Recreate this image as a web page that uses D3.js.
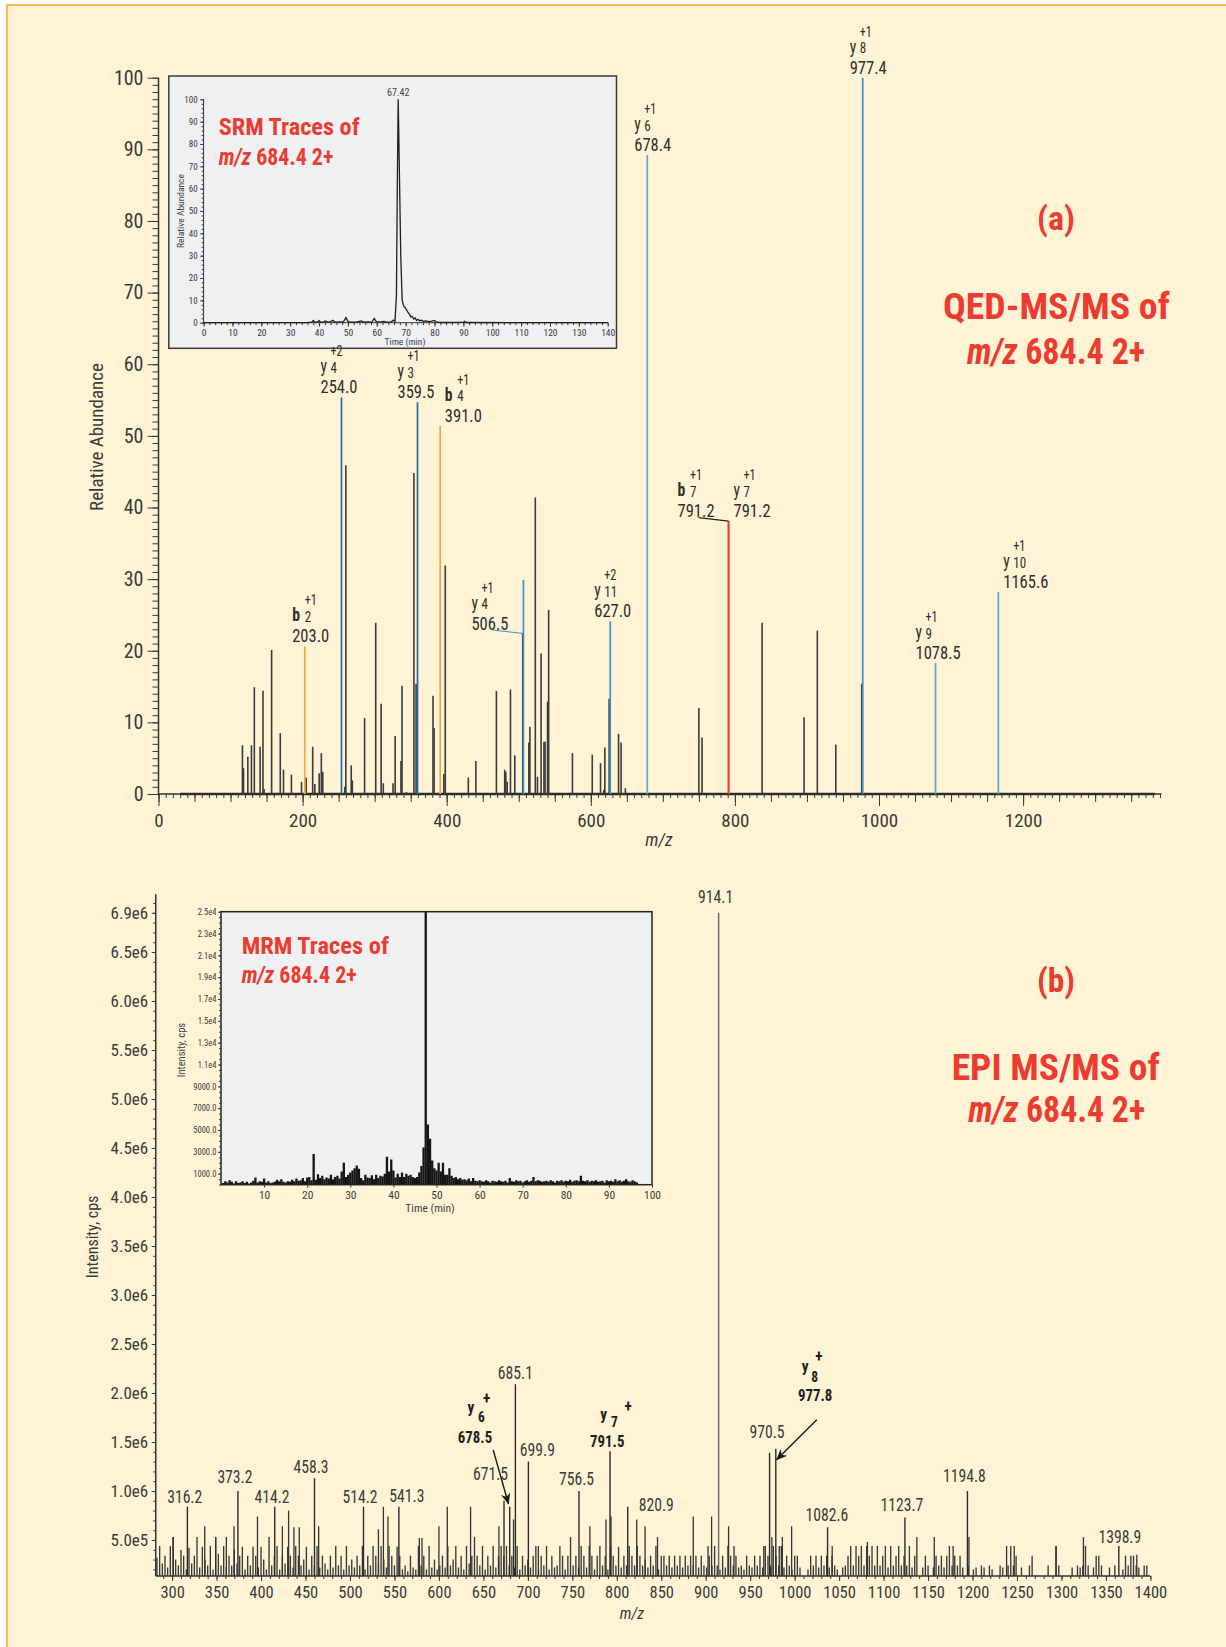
<!DOCTYPE html>
<html>
<head>
<meta charset="utf-8">
<script src="https://cdn.jsdelivr.net/npm/d3@7"></script>
<style>
  html, body { margin: 0; padding: 0; background: #fff; }
  svg { display: block; }
</style>
</head>
<body>
<div id="chart"></div>
<script>
/////////////////////////////////////////////////////////////
//////////////////////////// Data ///////////////////////////
/////////////////////////////////////////////////////////////

// (a) QED-MS/MS, unlabeled peaks: [m/z, relative abundance]
var qedPeaks = [
  [116.5,6.8],[118,3.6],[124,5.2],[129,6.8],[133,14.9],[141,6.6],[145,14.4],[146.5,0.7],
  [157,20.1],[169,8.5],[173.5,3.4],[184.5,2.7],[198.5,1.7],[205,2.3],[214,6.6],[217,1.4],
  [223,2.9],[226,5.7],[228,3.1],[258.5,1.0],[260,45.9],[267.5,4.0],[269,1.9],[286,10.6],
  [301.5,23.9],[309,12.6],[312,1.5],[325.5,1.5],[328.5,8.1],[336.5,4.6],[338,15.1],[344,0.3],
  [354.5,44.8],[357.5,15.4],[381,13.7],[382.5,9.2],[396,2.8],[398,31.9],[430,2.3],[440.5,4.6],
  [469,14.4],[480.5,3.4],[482,3.1],[484,1.7],[488.5,14.6],[494.5,5.4],[505.5,22.4],[514,7.2],
  [515.5,9.4],[523,41.4],[526,2.4],[531,19.6],[535,7.3],[536.5,7.3],[540,12.9],[541.5,25.7],
  [574.5,5.7],[602,5.5],[613.5,4.3],[618,0.6],[619.5,6.5],[625.5,13.3],[638.5,8.4],[642,7.2],
  [648,0.8],[750,12.0],[754.4,7.9],[837.8,23.9],[896,10.7],[914.4,22.8],[940,6.9],[976,15.4]
];

// (a) assigned fragment ions
var qedIons = [
  { name: "b2",   ion: "b", idx: "2",  z: "+1", mz: 203.0,  ab: 20.6 },
  { name: "y4z2", ion: "y", idx: "4",  z: "+2", mz: 254.0,  ab: 55.4 },
  { name: "y3",   ion: "y", idx: "3",  z: "+1", mz: 359.5,  ab: 54.7 },
  { name: "b4",   ion: "b", idx: "4",  z: "+1", mz: 391.0,  ab: 51.4 },
  { name: "y4",   ion: "y", idx: "4",  z: "+1", mz: 506.5,  ab: 29.9 },
  { name: "y11",  ion: "y", idx: "11", z: "+2", mz: 627.0,  ab: 24.1 },
  { name: "y6",   ion: "y", idx: "6",  z: "+1", mz: 678.4,  ab: 89.2 },
  { name: "b7",   ion: "b", idx: "7",  z: "+1", mz: 791.2,  ab: 38.1 },
  { name: "y7",   ion: "y", idx: "7",  z: "+1", mz: 791.2,  ab: 38.1 },
  { name: "y8",   ion: "y", idx: "8",  z: "+1", mz: 977.4,  ab: 100 },
  { name: "y9",   ion: "y", idx: "9",  z: "+1", mz: 1078.5, ab: 18.3 },
  { name: "y10",  ion: "y", idx: "10", z: "+1", mz: 1165.6, ab: 28.2 }
];

// (a) inset: SRM trace [time (min), relative abundance]
var srmTrace = [
  [0,0],[36,0],[37.5,0.3],[38,1.0],[38.5,0.2],[39.5,0.3],[40,0.9],[40.6,0.2],[41.5,0.4],
  [42.2,0.8],[43,0.3],[44,0.5],[44.8,1.1],[45.5,0.3],[47,0.4],[48.5,0.5],[49.3,2.3],[50,0.6],
  [51,0.2],[53,0.3],[54.6,0.8],[55.5,0.3],[57,0.4],[58.3,0.3],[59.1,1.9],[59.8,0.5],[61,0.3],
  [62.5,0.6],[63.5,0.2],[65,0.4],[65.8,1.2],[66.3,0.5],[66.8,12],[67.1,60],[67.42,100],
  [67.8,70],[68.3,30],[68.8,10],[69.3,7.5],[69.8,6.8],[70.3,5.8],[70.8,4.6],[71.3,3.8],
  [71.8,2.6],[72.3,2.8],[72.8,1.6],[73.3,2.1],[73.8,1.0],[74.3,1.5],[74.8,0.9],[75.5,1.1],
  [76.2,0.6],[77,0.8],[78,0.5],[79,0.7],[80,1.0],[80.5,0.4],[81.5,0.2],[83,0.1],[90,0.2],
  [90.4,0.6],[91,0.1],[140,0]
];
var srmApex = 67.42;

// (b) EPI MS/MS: dense low-level ion forest, intensity in 1e5 cps, one value every 3 m/z from 283
var epiNoiseStart = 283, epiNoiseStep = 3;
var epiNoise = [
  3.2,4.4,2.6,3.4,2.2,4.4,5.3,3.0,2.4,4.0,  3.4,2.0,4.2,2.6,3.4,5.3,2.2,4.3,3.0,2.4,
  4.4,2.0,5.3,3.6,2.4,4.4,2.2,3.4,2.4,4.0,  2.6,3.4,4.3,2.0,3.4,2.4,4.3,3.4,2.2,4.3,
  3.0,2.0,5.3,2.4,3.4,4.4,2.0,3.4,2.6,4.3,  3.4,2.2,4.4,3.4,2.4,3.0,4.3,2.0,3.4,2.4,
  4.4,2.2,3.4,2.6,2.0,3.4,2.2,4.4,2.4,3.4,  2.0,4.4,2.4,3.0,2.2,3.4,2.4,4.4,2.0,3.4,
  2.4,4.4,3.4,2.6,4.4,3.0,2.2,4.4,3.4,2.4,  4.3,3.4,2.0,2.4,1.8,3.4,2.2,2.0,4.4,2.4,
  3.4,2.0,4.4,2.2,3.0,2.0,2.4,3.4,2.2,4.4,  2.4,3.0,4.4,2.2,3.4,2.0,4.4,2.6,3.4,5.3,
  3.4,2.4,4.4,2.0,3.4,2.4,4.4,2.2,3.4,4.4,  3.4,4.4,2.4,3.4,2.2,4.4,2.0,3.4,2.4,3.0,
  2.2,3.4,4.4,2.0,3.4,2.4,4.4,2.0,3.4,2.2,  2.4,4.4,3.4,2.0,3.4,5.3,2.4,3.4,2.2,4.4,
  3.4,2.2,4.4,3.4,2.0,3.4,4.4,2.4,3.4,2.0,  4.4,3.4,2.4,4.3,2.2,3.4,2.4,4.4,3.4,2.4,
  4.4,3.4,2.4,3.0,2.2,3.4,2.4,4.4,2.0,3.4,  3.4,2.4,3.4,2.2,3.4,2.4,3.4,2.2,3.4,2.4,
  3.4,2.4,3.4,2.2,3.4,2.4,2.2,3.4,2.4,4.4,  2.4,2.0,3.4,2.2,4.4,3.4,2.4,3.4,2.2,2.4,
  2.0,3.4,2.4,2.2,3.4,2.4,3.4,2.2,4.4,3.4,  2.4,4.4,3.4,2.4,4.4,2.2,3.4,2.4,2.0,3.4,
  3.4,2.2,0,0,2.0,3.4,2.4,3.4,2.2,3.4,      2.4,3.4,2.2,3.4,2.4,2.0,0,2.2,2.4,3.4,
  4.4,2.4,4.4,3.4,4.4,2.4,4.4,3.4,4.4,2.4,  4.4,2.4,3.4,4.4,2.2,4.4,2.4,3.4,4.4,2.4,
  3.4,2.4,4.4,2.2,3.4,0,0,2.2,3.4,2.4,      0,2.2,3.4,2.4,3.4,2.2,3.4,4.4,2.4,3.4,
  2.4,3.4,2.2,0,2.4,0,2.0,2.2,0,2.4,        2.2,0,2.4,2.0,0,0,2.4,2.2,0,2.4,
  4.4,2.4,3.4,0,2.2,0,0,2.4,3.4,0,          0,0,0,0,2.4,0,0,4.4,2.4,0,
  0,0,0,2.2,0,2.4,2.2,2.4,4.4,2.4,          0,2.2,3.4,3.4,2.4,0,0,2.2,0,2.4,
  0,0,2.0,3.4,2.4,3.4,3.4,2.4,2.2,0,        2.4,2.4,0
];

// (b) stronger unlabeled peaks: [m/z, intensity 1e5 cps]
var epiPeaks = [
  [301.4,5.3],[336.7,6.4],[349,5.3],[361,5.3],[369.6,6.4],[396,7.4],[424,6.4],[431,8.0],
  [437,6.3],[443,6.3],[464.8,6.4],[532,6.1],[537.6,8.4],[542.7,7.4],[578,5.2],[581,5.2],
  [600,6.4],[609.4,8.4],[635.6,8.4],[667.5,6.4],[683.9,7.1],[711.8,4.4],[769.8,6.4],
  [787.9,7.1],[793.5,7.4],[822.4,7.1],[831.8,6.4],[845.8,5.3],[886,7.4],[902.6,4.4],
  [906.6,7.4],[925.7,6.4],[931.8,4.4],[965.3,4.4],[974.4,5.3],[982.7,4.4],[986.2,5.3],
  [996.6,6.4],[1042.2,4.4],[1081.8,4.8],[1137.4,5.3],[1157,5.3],[1178.2,4.4],[1196,5.3],
  [1238.3,4.4],[1246.9,4.4],[1293.8,4.4],[1324.7,5.3],[1384.7,3.5]
];

// (b) labeled peaks (label text as printed, peak drawn where it sits on the axis)
var epiLabeled = [
  { text: "316.2",  mz: 317.2,  inten: 8.4 },
  { text: "373.2",  mz: 374.0,  inten: 10.0 },
  { text: "414.2",  mz: 415.4,  inten: 8.4 },
  { text: "458.3",  mz: 460.1,  inten: 11.3 },
  { text: "514.2",  mz: 515.2,  inten: 8.4 },
  { text: "541.3",  mz: 555.0,  inten: 8.4 },
  { text: "671.5",  mz: 673.2,  inten: 9.0 },
  { text: "685.1",  mz: 686.0,  inten: 20.9 },
  { text: "699.9",  mz: 700.6,  inten: 13.0 },
  { text: "756.5",  mz: 757.5,  inten: 10.0 },
  { text: "820.9",  mz: 812.3,  inten: 8.4 },
  { text: "914.1",  mz: 914.5,  inten: 69.0 },
  { text: "970.5",  mz: 971.8,  inten: 13.9 },
  { text: "1082.6", mz: 1037.0, inten: 6.3 },
  { text: "1123.7", mz: 1124.0, inten: 7.3 },
  { text: "1194.8", mz: 1194.3, inten: 10.0 },
  { text: "1398.9", mz: 1364.5, inten: 4.4 }
];

// (b) assigned y ions
var epiIons = [
  { ion: "y", idx: "6", z: "+", text: "678.5", mz: 679.6, inten: 8.4 },
  { ion: "y", idx: "7", z: "+", text: "791.5", mz: 792.4, inten: 14.05 },
  { ion: "y", idx: "8", z: "+", text: "977.8", mz: 978.8, inten: 14.3 }
];

// (b) inset: MRM trace, cps, one reading every 0.5 min from 0.5 min
var mrmStart = 0.5, mrmStep = 0.5;
var mrmValues = [
  150,300,200,400,250,100,300,150,200,300,
  150,250,100,200,350,650,200,300,250,550,
  200,300,150,200,250,450,300,500,250,200,
  300,250,450,300,550,350,400,600,300,650,
  700,400,2800,450,950,600,800,500,650,550,
  900,500,700,800,550,1200,2000,700,900,1100,
  1300,1500,1750,1450,600,400,900,650,600,850,
  500,900,600,800,750,1000,2550,1200,2300,1300,
  650,1000,700,1100,700,1000,800,900,700,600,
  700,1100,1700,3400,26000,5500,4200,2200,1500,1300,
  2000,1200,2000,900,900,1500,800,600,700,500,
  600,450,500,400,550,300,600,350,300,400,
  300,250,400,300,200,350,300,250,400,300,
  250,350,200,600,300,250,400,300,350,200,
  300,400,250,350,700,300,400,350,250,300,
  350,250,400,300,200,350,300,400,250,350,
  300,450,250,350,400,300,800,350,300,400,
  250,350,300,400,250,300,350,200,400,300,
  350,250,500,300,400,250,350,500,300,250,
  400,300,200
];

// tick labels
var epiYTicks  = [5e5,1e6,1.5e6,2e6,2.5e6,3e6,3.5e6,4e6,4.5e6,5e6,5.5e6,6e6,6.5e6,6.9e6];
var epiYLabels = ["5.0e5","1.0e6","1.5e6","2.0e6","2.5e6","3.0e6","3.5e6","4.0e6","4.5e6","5.0e6","5.5e6","6.0e6","6.5e6","6.9e6"];
var mrmYTicks  = [1000,3000,5000,7000,9000,11000,13000,15000,17000,19000,21000,23000,25000];
var mrmYLabels = ["1000.0","3000.0","5000.0","7000.0","9000.0","1.1e4","1.3e4","1.5e4","1.7e4","1.9e4","2.1e4","2.3e4","2.5e4"];

/////////////////////////////////////////////////////////////
/////////////////////////// Layout //////////////////////////
/////////////////////////////////////////////////////////////

var W = 1226, H = 1647;
var FONT = '"Liberation Sans Narrow","Arial Narrow","Roboto Condensed","DejaVu Sans Condensed",sans-serif';
var RED = "#EC3C32", BLUE = "#3b93c9", DARKBLUE = "#1f6dab", ORANGE = "#F5A540";
var SQ_A = 0.87, SQ_B = 0.87, SQ_BOLD = 0.9;   // horizontal squeeze of annotation text

// label placement for the (a) ions: text offset from the peak, optional leader
var ionLayout = {
  b2:   { dx: -12.6, color: ORANGE },
  y4z2: { dx: -21,   color: DARKBLUE },
  y3:   { dx: -20,   color: DARKBLUE },
  b4:   { dx: 4.6,   color: ORANGE },
  y4:   { dx: -52,   color: BLUE, at: 22.4, leader: true },
  y11:  { dx: -16,   color: BLUE },
  y6:   { dx: -13,   color: "#5aaad6" },
  b7:   { dx: -51,   color: RED, leader: true },
  y7:   { dx: 5,     color: RED },
  y8:   { dx: -13,   color: BLUE },
  y9:   { dx: -20,   color: "#55a8d6" },
  y10:  { dx: 5,     color: "#55a8d6" }
};
// rows of an ion label, relative to the value baseline
var ROW = { value: 0, letter: -21, index: -20.4, charge: -37 };

// label placement for (b) labeled peaks: centre offset and gap above peak top
var epiLabelLayout = {
  "316.2": { dx: -2.7, gap: 4 },   "373.2": { dx: -3, gap: 8 },    "414.2": { dx: -2.7, gap: 4 },
  "458.3": { dx: -3.5, gap: 5.5 }, "514.2": { dx: -3.5, gap: 4 },  "541.3": { dx: 8, gap: 5 },
  "671.5": { dx: -13.5, gap: 21 }, "685.1": { dx: 0, gap: 5.5 },   "699.9": { dx: 9, gap: 5.5 },
  "756.5": { dx: -2.4, gap: 6 },   "820.9": { dx: 11, gap: -4.3, start: true },
  "914.1": { dx: -3, gap: 9.6 },   "970.5": { dx: -2.6, gap: 15 }, "1082.6": { dx: -0.6, gap: 6.3 },
  "1123.7": { dx: -3, gap: 6.5 },  "1194.8": { dx: -3, gap: 9 },   "1398.9": { dx: 1, gap: 2.6 }
};

// bold ion annotations in (b): offsets from peak top (value, letter, index, charge, arrow)
var epiIonLayout = {
  "678.5": { vx: -34.7, vb: -63.4, lx: -42.1, lb: -93.7, ix: -31.7, ib: -85,   zx: -26.7, zb: -103, arrow: [-16.5, -56.7, -1.2, -2.7] },
  "791.5": { vx: -2.8,  vb: -4.6,  lx: -9.7,  lb: -31,   ix: 1,     ib: -24.6, zx: 14.4,  zb: -39 },
  "977.8": { vx: 39.4,  vb: -48.2, lx: 25.9,  lb: -77,   ix: 35.5,  ib: -67.2, zx: 39.4,  zb: -87.2, arrow: [41, -29, 0.7, 11] }
};

var svg = d3.select("#chart").append("svg")
  .attr("width", W).attr("height", H)
  .attr("font-family", FONT);

svg.append("rect").attr("width", W).attr("height", H).attr("fill", "#fff");
svg.append("rect")
  .attr("x", 7).attr("y", 5).attr("width", W + 20).attr("height", H + 20)
  .attr("fill", "#FEF4D5").attr("stroke", "#F7BC58").attr("stroke-width", 2);

var defs = svg.append("defs");
defs.append("marker").attr("id", "arrowHead")
  .attr("viewBox", "0 0 10 10").attr("refX", 9.5).attr("refY", 5)
  .attr("markerWidth", 8).attr("markerHeight", 8).attr("orient", "auto")
  .append("path").attr("d", "M0,0.8 L10,5 L0,9.2 L3,5 Z").attr("fill", "#1a1a1a");

// axis helper: ticks only, domain line drawn separately
function tickLayer(parent, tx, ty, axisFn, scale, values, size, fmt, pad, fontSize) {
  var g = parent.append("g").attr("transform", "translate(" + tx + "," + ty + ")");
  g.call(axisFn(scale).tickValues(values).tickSize(size).tickSizeOuter(0)
    .tickPadding(pad || 3).tickFormat(fmt || ""));
  g.select(".domain").remove();
  g.attr("font-family", FONT).attr("font-size", fontSize || 10).attr("color", "#3a3a3a");
  g.selectAll("line").attr("stroke-width", 1);
  return g;
}

// red bold panel titles
function titleText(x, y, size, len, parts) {
  var t = svg.append("text").attr("x", x).attr("y", y).attr("font-size", size)
    .attr("font-weight", "bold").attr("fill", RED)
    .attr("textLength", len).attr("lengthAdjust", "spacingAndGlyphs");
  parts.forEach(function (p) {
    t.append("tspan").attr("font-style", p[1] ? "italic" : "normal").text(p[0]);
  });
}

/////////////////////////////////////////////////////////////
/////////////////////// Panel (a) ///////////////////////////
/////////////////////////////////////////////////////////////

var xA = d3.scaleLinear().domain([0, 1200]).range([158.5, 1023.1]);
var yA = d3.scaleLinear().domain([0, 100]).range([794, 77.7]);
var gA = svg.append("g");

// y axis
tickLayer(gA, xA(0), 0, d3.axisLeft, yA, d3.range(0, 101, 1), 6);
tickLayer(gA, xA(0), 0, d3.axisLeft, yA, d3.range(0, 101, 10), 11, d3.format("d"), 4, 20);
gA.append("line").attr("x1", xA(0)).attr("x2", xA(0)).attr("y1", yA(0)).attr("y2", yA(100))
  .attr("stroke", "#333").attr("stroke-width", 1.5);

// x axis
tickLayer(gA, 0, yA(0), d3.axisBottom, xA, d3.range(0, 1391, 10), 4);
tickLayer(gA, 0, yA(0), d3.axisBottom, xA, d3.range(0, 1391, 50), 8);
tickLayer(gA, 0, yA(0), d3.axisBottom, xA, d3.range(0, 1201, 200), 12, d3.format("d"), 8, 19);
gA.append("line").attr("x1", xA(0)).attr("x2", xA(1392)).attr("y1", yA(0)).attr("y2", yA(0))
  .attr("stroke", "#333").attr("stroke-width", 1.5);

gA.append("text").attr("transform", "translate(103," + 437 + ") rotate(-90)")
  .attr("text-anchor", "middle").attr("font-size", 19).attr("fill", "#3a3a3a")
  .text("Relative Abundance");
gA.append("text").attr("x", 659).attr("y", 846).attr("text-anchor", "middle")
  .attr("font-size", 18).attr("font-style", "italic").attr("fill", "#3a3a3a").text("m/z");

// baseline of the spectrum
gA.append("line").attr("x1", xA(30)).attr("x2", xA(1383)).attr("y1", yA(0)).attr("y2", yA(0))
  .attr("stroke", "#2d2d2d").attr("stroke-width", 2.6);

// unlabeled peaks
gA.selectAll("line.qpk").data(qedPeaks).join("line").attr("class", "qpk")
  .attr("x1", d => xA(d[0])).attr("x2", d => xA(d[0]))
  .attr("y1", yA(0)).attr("y2", d => yA(d[1]))
  .attr("stroke", "#3a3a3a").attr("stroke-width", 1.6);

// ion peaks
gA.selectAll("line.ion").data(qedIons).join("line").attr("class", "ion")
  .attr("x1", d => xA(d.mz)).attr("x2", d => xA(d.mz))
  .attr("y1", yA(0)).attr("y2", d => yA(d.ab))
  .attr("stroke", d => ionLayout[d.name].color).attr("stroke-width", 1.7);

titleText(1037, 230, 34, 38, [["(a)", false]]);
titleText(943, 319, 37, 227, [["QED-MS/MS of", false]]);
titleText(967, 364, 37, 178, [["m/z", true], [" 684.4 2+", false]]);

// inset: SRM trace
var gS = svg.append("g");
gS.append("rect").attr("x", 168.8).attr("y", 76).attr("width", 447.7).attr("height", 272.3)
  .attr("fill", "#EFF0F2").attr("stroke", "#3a3a3a").attr("stroke-width", 1.5);
var xS = d3.scaleLinear().domain([0, 140]).range([203.6, 607.7]);
var yS = d3.scaleLinear().domain([0, 100]).range([322.7, 99.3]);
tickLayer(gS, xS(0), 0, d3.axisLeft, yS, d3.range(0, 101, 2), 2);
tickLayer(gS, xS(0), 0, d3.axisLeft, yS, d3.range(0, 101, 10), 3.5, d3.format("d"), 2.5, 9);
tickLayer(gS, 0, yS(0), d3.axisBottom, xS, d3.range(0, 141, 2), 2.5);
tickLayer(gS, 0, yS(0), d3.axisBottom, xS, d3.range(0, 141, 10), 4, d3.format("d"), 3, 9.5);
gS.append("line").attr("x1", xS(0)).attr("x2", xS(0)).attr("y1", yS(0)).attr("y2", yS(100))
  .attr("stroke", "#333").attr("stroke-width", 1);
gS.append("line").attr("x1", xS(0)).attr("x2", xS(140)).attr("y1", yS(0)).attr("y2", yS(0))
  .attr("stroke", "#333").attr("stroke-width", 1);
gS.append("text").attr("transform", "translate(183.5,211) rotate(-90)")
  .attr("text-anchor", "middle").attr("font-size", 9.5).attr("fill", "#444").text("Relative Abundance");
gS.append("text").attr("x", 405).attr("y", 345).attr("text-anchor", "middle")
  .attr("font-size", 9.5).attr("fill", "#444").text("Time (min)");
gS.append("path").datum(srmTrace)
  .attr("d", d3.line().x(d => xS(d[0])).y(d => yS(d[1])))
  .attr("fill", "none").attr("stroke", "#1e1e1e").attr("stroke-width", 1.3);
gS.append("text").attr("x", xS(srmApex)).attr("y", 96).attr("text-anchor", "middle")
  .attr("font-size", 10).attr("fill", "#444").text(srmApex.toFixed(2));
titleText(218.7, 135, 24, 141, [["SRM Traces of", false]]);
titleText(218.7, 165, 24, 114.6, [["m/z", true], [" 684.4 2+", false]]);

// ion labels (drawn above the inset): one text per label, rows placed with tspans
var gLab = svg.append("g");
qedIons.forEach(function (d) {
  var lay = ionLayout[d.name];
  var px = xA(d.mz), top = yA(lay.at !== undefined ? lay.at : d.ab);
  var x0 = px + lay.dx, vb = top - 4;
  var gap = (d.ion === "b" ? 12.5 : 10) / SQ_A;
  var t = gLab.append("text").attr("fill", "#2e2e2e")
    .attr("transform", "translate(" + x0 + "," + vb + ") scale(" + SQ_A + ",1)");
  t.append("tspan").attr("x", gap).attr("y", ROW.charge).attr("font-size", 14).text(d.z);
  t.append("tspan").attr("x", 0).attr("y", ROW.letter).attr("font-size", 18)
    .attr("font-weight", d.ion === "b" ? "bold" : "normal").text(d.ion);
  t.append("tspan").attr("x", gap).attr("y", ROW.index).attr("font-size", 15).text(d.idx);
  t.append("tspan").attr("x", 0).attr("y", ROW.value).attr("font-size", 19).text(d.mz.toFixed(1));
  if (lay.leader) {
    gLab.append("line").attr("x1", x0 + 21).attr("y1", vb + 0.5).attr("x2", px).attr("y2", top)
      .attr("stroke", lay.color === RED ? "#222" : lay.color).attr("stroke-width", 1.1);
  }
});

/////////////////////////////////////////////////////////////
/////////////////////// Panel (b) ///////////////////////////
/////////////////////////////////////////////////////////////

var xB = d3.scaleLinear().domain([300, 1400]).range([172.1, 1150.4]);
var yB = d3.scaleLinear().domain([5e5, 6.5e6]).range([1540, 952]);
var floorB = yB.invert(1576);
var gB = svg.append("g");

// y axis
tickLayer(gB, xB(281.6), 0, d3.axisLeft, yB, d3.range(2e5, 7.01e6, 1e5), 2.5);
tickLayer(gB, xB(281.6), 0, d3.axisLeft, yB, epiYTicks, 4, function (d, i) { return epiYLabels[i]; }, 3.5, 17);
gB.append("line").attr("x1", xB(281.6)).attr("x2", xB(281.6)).attr("y1", yB(floorB)).attr("y2", yB(7.09e6))
  .attr("stroke", "#333").attr("stroke-width", 1.5);

// x axis
tickLayer(gB, 0, yB(floorB), d3.axisBottom, xB, d3.range(290, 1401, 10), 3);
tickLayer(gB, 0, yB(floorB), d3.axisBottom, xB, d3.range(300, 1401, 50), 5, d3.format("d"), 4.8, 16.5);
gB.append("line").attr("x1", xB(281.6)).attr("x2", xB(1400)).attr("y1", yB(floorB)).attr("y2", yB(floorB))
  .attr("stroke", "#333").attr("stroke-width", 1.5);

gB.append("text").attr("transform", "translate(98,1237) rotate(-90)")
  .attr("text-anchor", "middle").attr("font-size", 16).attr("fill", "#3a3a3a").text("Intensity, cps");
gB.append("text").attr("x", 632).attr("y", 1619).attr("text-anchor", "middle")
  .attr("font-size", 16).attr("font-style", "italic").attr("fill", "#3a3a3a").text("m/z");

// ion forest
var forest = gB.append("g");
epiNoise.forEach(function (v, i) {
  if (v * 1e5 <= floorB) return;
  var mz = epiNoiseStart + i * epiNoiseStep;
  forest.append("line").attr("x1", xB(mz)).attr("x2", xB(mz))
    .attr("y1", yB(floorB)).attr("y2", yB(v * 1e5))
    .attr("stroke", "#383838").attr("stroke-width", 1.35);
});
gB.selectAll("line.epk").data(epiPeaks).join("line").attr("class", "epk")
  .attr("x1", d => xB(d[0])).attr("x2", d => xB(d[0]))
  .attr("y1", yB(floorB)).attr("y2", d => yB(d[1] * 1e5))
  .attr("stroke", "#333").attr("stroke-width", 1.3);
gB.selectAll("line.elab").data(epiLabeled.concat(epiIons)).join("line").attr("class", "elab")
  .attr("x1", d => xB(d.mz)).attr("x2", d => xB(d.mz))
  .attr("y1", yB(floorB)).attr("y2", d => yB(d.inten * 1e5))
  .attr("stroke", d => d.text === "914.1" ? "#666" : "#2a2a2a").attr("stroke-width", 1.4);

// peak labels
epiLabeled.forEach(function (d) {
  var lay = epiLabelLayout[d.text];
  gB.append("text")
    .attr("transform", "translate(" + (xB(d.mz) + lay.dx) + "," + (yB(d.inten * 1e5) - lay.gap) + ") scale(" + SQ_B + ",1)")
    .attr("text-anchor", lay.start ? "start" : "middle")
    .attr("font-size", 18).attr("fill", "#3a3a3a").text(d.text);
});

// bold ion labels with arrows
epiIons.forEach(function (d) {
  var lay = epiIonLayout[d.text];
  var px = xB(d.mz), top = yB(d.inten * 1e5);
  var t = gB.append("text").attr("fill", "#1e1e1e").attr("font-weight", "bold")
    .attr("transform", "translate(" + px + "," + top + ") scale(" + SQ_BOLD + ",1)");
  t.append("tspan").attr("x", lay.zx / SQ_BOLD).attr("y", lay.zb).attr("font-size", 17).text(d.z);
  t.append("tspan").attr("x", lay.lx / SQ_BOLD).attr("y", lay.lb).attr("font-size", 17).text(d.ion);
  t.append("tspan").attr("x", lay.ix / SQ_BOLD).attr("y", lay.ib).attr("font-size", 15).text(d.idx);
  t.append("tspan").attr("x", lay.vx / SQ_BOLD).attr("y", lay.vb).attr("font-size", 16.5)
    .attr("text-anchor", "middle").text(d.text);
  if (lay.arrow) {
    gB.append("line")
      .attr("x1", px + lay.arrow[0]).attr("y1", top + lay.arrow[1])
      .attr("x2", px + lay.arrow[2]).attr("y2", top + lay.arrow[3])
      .attr("stroke", "#1a1a1a").attr("stroke-width", 1.4).attr("marker-end", "url(#arrowHead)");
  }
});

titleText(1037, 992, 34, 38, [["(b)", false]]);
titleText(951.7, 1080, 37, 208, [["EPI MS/MS of", false]]);
titleText(968.3, 1121.7, 37, 176.7, [["m/z", true], [" 684.4 2+", false]]);

// inset: MRM trace
var gM = svg.append("g");
var xM = d3.scaleLinear().domain([0, 100]).range([221, 652]);
var yM = d3.scaleLinear().domain([0, 25000]).range([1184.6, 911.7]);
gM.append("rect").attr("x", 221).attr("y", 911.7).attr("width", 431).attr("height", 273)
  .attr("fill", "#EFF0F2");
defs.append("clipPath").attr("id", "mrmClip").append("rect")
  .attr("x", 221).attr("y", 911.7).attr("width", 431).attr("height", 273);
gM.append("g").attr("clip-path", "url(#mrmClip)")
  .selectAll("line").data(mrmValues).join("line")
  .attr("x1", (v, i) => xM(mrmStart + i * mrmStep)).attr("x2", (v, i) => xM(mrmStart + i * mrmStep))
  .attr("y1", yM(0)).attr("y2", v => yM(v))
  .attr("stroke", "#151515").attr("stroke-width", 2.3);
gM.append("rect").attr("x", 221).attr("y", 911.7).attr("width", 431).attr("height", 273)
  .attr("fill", "none").attr("stroke", "#222").attr("stroke-width", 1.5);
tickLayer(gM, 221, 0, d3.axisLeft, yM, d3.range(0, 25001, 500), 2);
tickLayer(gM, 221, 0, d3.axisLeft, yM, mrmYTicks, 3, function (d, i) { return mrmYLabels[i]; }, 1.5, 8.5);
tickLayer(gM, 0, yM(0), d3.axisBottom, xM, d3.range(10, 101, 10), 3, d3.format("d"), 3.5, 11.5);
gM.append("text").attr("transform", "translate(185,1050) rotate(-90)")
  .attr("text-anchor", "middle").attr("font-size", 10.5).attr("fill", "#444").text("Intensity, cps");
gM.append("text").attr("x", 430).attr("y", 1212).attr("text-anchor", "middle")
  .attr("font-size", 11.5).attr("fill", "#444").text("Time (min)");
titleText(241.7, 954, 24, 147.3, [["MRM Traces of", false]]);
titleText(241.7, 983, 24, 115, [["m/z", true], [" 684.4 2+", false]]);
</script>
</body>
</html>
